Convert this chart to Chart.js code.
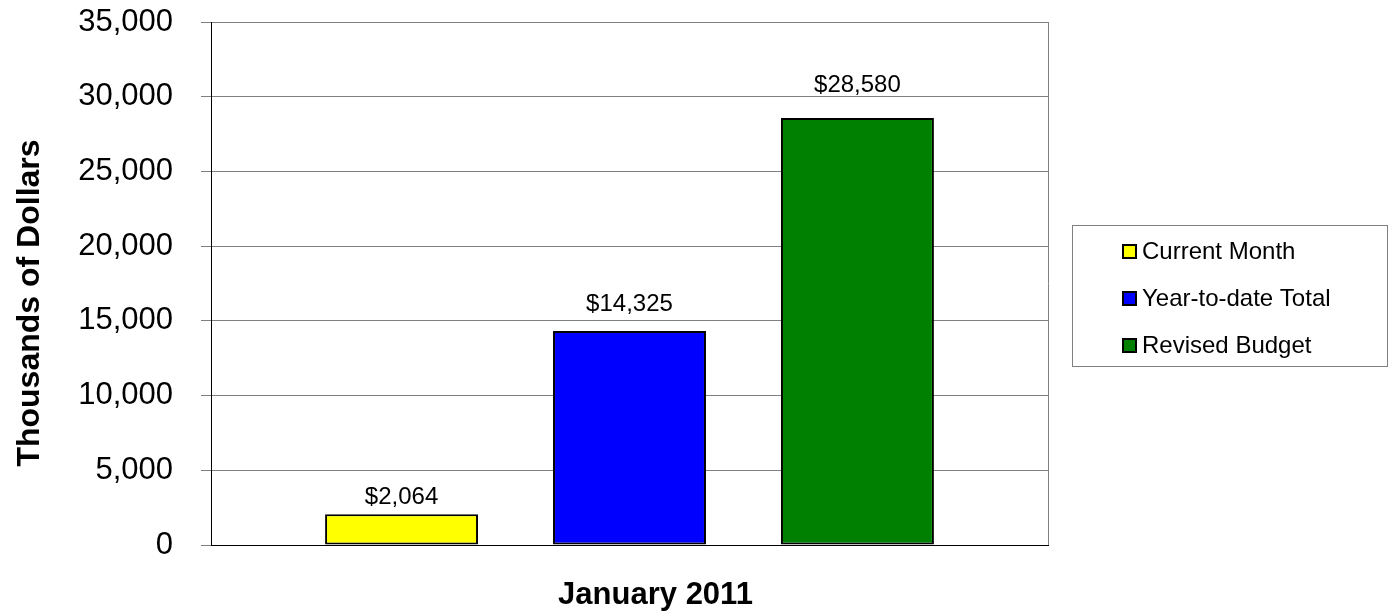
<!DOCTYPE html>
<html>
<head>
<meta charset="utf-8">
<script src="https://cdn.jsdelivr.net/npm/chart.js@4/dist/chart.umd.min.js"></script>
<style>
  html, body { margin: 0; padding: 0; background: #fff; }
  #wrap { width: 1389px; height: 614px; }
</style>
</head>
<body>
<div id="wrap"><canvas id="budgetChart" width="1389" height="614"></canvas></div>
<script>
// Chart data
const categories = ['January 2011'];
const seriesNames = ['Current Month', 'Year-to-date Total', 'Revised Budget'];
const seriesValues = [[2064], [14325], [28580]];
const seriesColors = ['#ffff00', '#0000ff', '#008000'];
const yTicks = [0, 5000, 10000, 15000, 20000, 25000, 30000, 35000];
const yTitle = 'Thousands of Dollars';

const FONT = 'Arial, "Liberation Sans", sans-serif';
// space between each value label and its bar (the original is not uniform)
const labelGaps = [10, 20, 26];

// value labels above bars
const valueLabels = {
  id: 'valueLabels',
  afterDatasetsDraw(chart) {
    const ctx = chart.ctx;
    ctx.save();
    ctx.font = '24px ' + FONT;
    ctx.fillStyle = '#000';
    ctx.textAlign = 'center';
    ctx.textBaseline = 'alphabetic';
    chart.data.datasets.forEach((ds, i) => {
      chart.getDatasetMeta(i).data.forEach((bar, j) => {
        ctx.fillText('$' + ds.data[j].toLocaleString('en-US'), bar.x, bar.y - labelGaps[i]);
      });
    });
    ctx.restore();
  }
};

// right border of plot, axis titles, boxed legend
const frameAndLegend = {
  id: 'frameAndLegend',
  afterDraw(chart) {
    const ctx = chart.ctx;
    const a = chart.chartArea;
    ctx.save();
    ctx.strokeStyle = '#808080';
    ctx.lineWidth = 1;
    ctx.beginPath();
    ctx.moveTo(a.right + 0.5, a.top);
    ctx.lineTo(a.right + 0.5, a.bottom);
    ctx.stroke();

    // category label (sits a bit right of the plot centre, like the original)
    ctx.font = 'bold 31px ' + FONT;
    ctx.fillStyle = '#000';
    ctx.textAlign = 'center';
    ctx.textBaseline = 'alphabetic';
    ctx.fillText(chart.data.labels[0], (a.left + a.right) / 2 + 26, 604);

    // y axis title
    ctx.save();
    ctx.translate(30, 303);
    ctx.rotate(-Math.PI / 2);
    ctx.font = 'bold 32px ' + FONT;
    ctx.textBaseline = 'middle';
    ctx.fillText(yTitle, 0, 0);
    ctx.restore();

    // legend box
    const bx = 1072.5, by = 225.5, bw = 315, bh = 141;
    ctx.strokeStyle = '#808080';
    ctx.lineWidth = 1;
    ctx.strokeRect(bx, by, bw, bh);
    ctx.font = '24px ' + FONT;
    ctx.textBaseline = 'middle';
    ctx.textAlign = 'left';
    chart.data.datasets.forEach((ds, i) => {
      const cy = 251 + i * 47;
      ctx.fillStyle = ds.backgroundColor;
      ctx.fillRect(1123, cy - 6, 13, 13);
      ctx.strokeStyle = '#000';
      ctx.lineWidth = 2;
      ctx.strokeRect(1123, cy - 6, 13, 13);
      ctx.fillStyle = '#000';
      ctx.fillText(ds.label, 1142, cy + 1);
    });
    ctx.restore();
  }
};

new Chart(document.getElementById('budgetChart').getContext('2d'), {
  type: 'bar',
  data: {
    labels: categories,
    datasets: seriesNames.map((name, i) => ({
      label: name,
      data: seriesValues[i],
      backgroundColor: seriesColors[i],
      borderColor: '#000',
      borderWidth: 2,
      borderSkipped: false,
      categoryPercentage: 0.817,
      barPercentage: 0.671
    }))
  },
  options: {
    responsive: false,
    animation: false,
    devicePixelRatio: 1,
    layout: { padding: { top: 22, right: 341, left: 0, bottom: 0 } },
    plugins: {
      legend: { display: false },
      tooltip: { enabled: false }
    },
    scales: {
      x: {
        grid: { display: false },
        border: { color: '#000', width: 1 },
        ticks: { display: false },
        afterFit(scale) { scale.height = 69; }
      },
      y: {
        min: 0,
        max: 35000,
        afterBuildTicks(scale) { scale.ticks = yTicks.map(v => ({ value: v })); },
        grid: { color: '#808080', lineWidth: 1, tickLength: 10 },
        border: { color: '#000', width: 1 },
        ticks: {
          color: '#000',
          padding: 28,
          font: { family: FONT, size: 31 },
          callback: v => v.toLocaleString('en-US')
        },
        afterFit(scale) {
          scale.width = 211;
          // tick padding otherwise pushes the plot top down
          scale.paddingTop = 0;
          scale.paddingBottom = 0;
        }
      }
    }
  },
  plugins: [valueLabels, frameAndLegend]
});
</script>
</body>
</html>
